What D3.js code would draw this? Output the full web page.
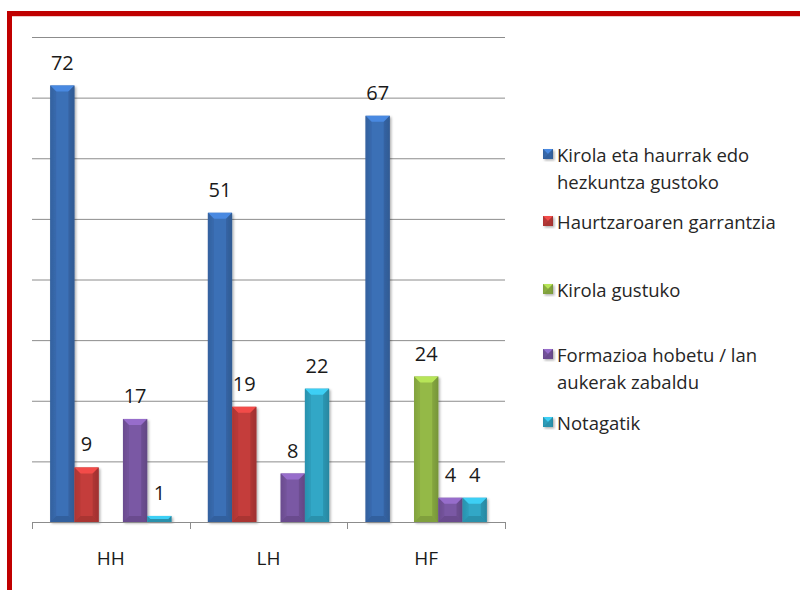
<!DOCTYPE html>
<html>
<head>
<meta charset="utf-8">
<script src="https://cdn.jsdelivr.net/npm/d3@7"></script>
<style>
  body { margin: 0; background: #fff; }
  svg { display: block; font-family: "Open Sans", sans-serif; }
</style>
</head>
<body>
<svg id="chart" width="800" height="590"></svg>
<script>
// data
const categories = ["HH", "LH", "HF"];
const seriesNames = [
  "Kirola eta haurrak edo hezkuntza gustoko",
  "Haurtzaroaren garrantzia",
  "Kirola gustuko",
  "Formazioa hobetu / lan aukerak zabaldu",
  "Notagatik"
];
const kirolaHaurrak = [72, 51, 67];
const haurtzaroa = [9, 19, 0];
const kirolaGustuko = [0, 0, 24];
const formazioa = [17, 8, 4];
const notagatik = [1, 22, 4];
const gridTicks = [10, 20, 30, 40, 50, 60, 70, 80];

// legend text split in lines as in the picture
const legendLines = [
  ["Kirola eta haurrak edo", "hezkuntza gustoko"],
  ["Haurtzaroaren garrantzia"],
  ["Kirola gustuko"],
  ["Formazioa hobetu / lan", "aukerak zabaldu"],
  ["Notagatik"]
];

const seriesValues = [kirolaHaurrak, haurtzaroa, kirolaGustuko, formazioa, notagatik];
const colors = ["#3b6fb6", "#c43d3b", "#94b947", "#7a58a4", "#31a7c6"];

const svg = d3.select("#chart");
const margin = {top: 37, left: 32, right: 295, bottom: 68};
const dim = {w: 800, h: 590};

const defs = svg.append("defs");
const shadow = defs.append("filter").attr("id", "shadow")
  .attr("x", "-20%").attr("y", "-20%").attr("width", "150%").attr("height", "150%");
shadow.append("feDropShadow")
  .attr("dx", 1.5).attr("dy", 1.5).attr("stdDeviation", 1.2)
  .attr("flood-color", "#000").attr("flood-opacity", 0.3);

colors.forEach((c, i) => {
  const g = defs.append("linearGradient").attr("id", "grad" + i)
    .attr("x1", "0").attr("x2", "1").attr("y1", "0").attr("y2", "0");
  g.append("stop").attr("offset", "0%").attr("stop-color", d3.color(c).darker(0.5));
  g.append("stop").attr("offset", "20%").attr("stop-color", c);
  g.append("stop").attr("offset", "80%").attr("stop-color", c);
  g.append("stop").attr("offset", "100%").attr("stop-color", d3.color(c).darker(0.6));
});

// red frame
svg.append("rect")
  .attr("x", 9.5).attr("y", 13.5)
  .attr("width", 900).attr("height", 700)
  .attr("fill", "none")
  .attr("stroke", "#c00000")
  .attr("stroke-width", 5);
svg.append("line")
  .attr("x1", 12).attr("x2", 800).attr("y1", 16.5).attr("y2", 16.5)
  .attr("stroke", "#f0c8c8").attr("stroke-width", 1);

// scales
const x0 = d3.scaleBand()
  .domain(categories)
  .range([margin.left, dim.w - margin.right]);
const x1 = d3.scaleBand()
  .domain(d3.range(seriesNames.length))
  .range([0, x0.bandwidth()])
  .paddingOuter(0.75);
const y = d3.scaleLinear()
  .domain([0, 80])
  .range([dim.h - margin.bottom, margin.top]);

// gridlines
const grid = svg.append("g")
  .attr("transform", `translate(${margin.left},0)`)
  .call(d3.axisLeft(y).tickValues(gridTicks).tickSize(-(x0.range()[1] - margin.left)).tickFormat(""));
grid.select(".domain").remove();
grid.selectAll(".tick line").attr("stroke", "#8c8c8c");

// bars
const barData = [];
categories.forEach((cat, ci) => {
  seriesValues.forEach((vals, si) => {
    if (vals[ci] > 0) barData.push({cat: cat, s: si, v: vals[ci]});
  });
});

function bevelBar(g, x, yTop, w, h, si) {
  const c = colors[si];
  const d = Math.min(6, w / 2, h / 2);
  g.append("rect").attr("x", x).attr("y", yTop).attr("width", w).attr("height", h)
    .attr("fill", `url(#grad${si})`);
  // top facet
  g.append("polygon")
    .attr("points", [[x, yTop], [x + w, yTop], [x + w - d, yTop + d], [x + d, yTop + d]].join(" "))
    .attr("fill", d3.color(c).brighter(0.6));
  // bottom facet
  g.append("polygon")
    .attr("points", [[x, yTop + h], [x + w, yTop + h], [x + w - d, yTop + h - d], [x + d, yTop + h - d]].join(" "))
    .attr("fill", d3.color(c).darker(0.4));
  // left / right facets
  g.append("polygon")
    .attr("points", [[x, yTop], [x + d, yTop + d], [x + d, yTop + h - d], [x, yTop + h]].join(" "))
    .attr("fill", d3.color(c).darker(0.3)).attr("opacity", 0.6);
  g.append("polygon")
    .attr("points", [[x + w, yTop], [x + w - d, yTop + d], [x + w - d, yTop + h - d], [x + w, yTop + h]].join(" "))
    .attr("fill", d3.color(c).darker(0.6)).attr("opacity", 0.6);
}

const bars = svg.append("g").attr("class", "bars");
barData.forEach(d => {
  const g = bars.append("g").attr("filter", "url(#shadow)");
  const bx = x0(d.cat) + x1(d.s);
  bevelBar(g, bx, y(d.v), x1.bandwidth(), y(0) - y(d.v), d.s);
});

// value labels
svg.append("g").selectAll("text")
  .data(barData)
  .join("text")
  .attr("x", d => x0(d.cat) + x1(d.s) + x1.bandwidth() / 2)
  .attr("y", d => y(d.v) - 16)
  .attr("text-anchor", "middle")
  .attr("fill", "#1a1a1a")
  .style("font-size", "20px")
  .text(d => d.v);

// x axis (ticks between categories)
const axisY = y(0);
const xAxis = svg.append("g").attr("class", "x-axis");
xAxis.append("line")
  .attr("x1", x0.range()[0]).attr("x2", x0.range()[1])
  .attr("y1", axisY + 0.5).attr("y2", axisY + 0.5)
  .attr("stroke", "#8c8c8c");
const bounds = categories.map(c => x0(c)).concat([x0.range()[1]]);
xAxis.selectAll(".tk").data(bounds).join("line")
  .attr("x1", d => Math.round(d) + 0.5).attr("x2", d => Math.round(d) + 0.5)
  .attr("y1", axisY).attr("y2", axisY + 7)
  .attr("stroke", "#8c8c8c");
xAxis.selectAll(".lbl").data(categories).join("text")
  .attr("x", d => x0(d) + x0.bandwidth() / 2)
  .attr("y", 565)
  .attr("text-anchor", "middle")
  .attr("fill", "#1a1a1a")
  .style("font-size", "19px")
  .text(d => d);

// legend
const legendY = [162, 229, 297, 362, 430];
const legend = svg.append("g").attr("class", "legend");
legendLines.forEach((lines, i) => {
  const g = legend.append("g").attr("filter", "url(#shadow)");
  bevelBar(g, 543, legendY[i] - 13, 10, 10, i);
  const t = legend.append("text")
    .attr("x", 557).attr("y", legendY[i])
    .attr("fill", "#262626")
    .style("font-size", "18.5px");
  lines.forEach((l, j) => {
    t.append("tspan").attr("x", 557).attr("dy", j === 0 ? 0 : 27).text(l);
  });
});
</script>
</body>
</html>
